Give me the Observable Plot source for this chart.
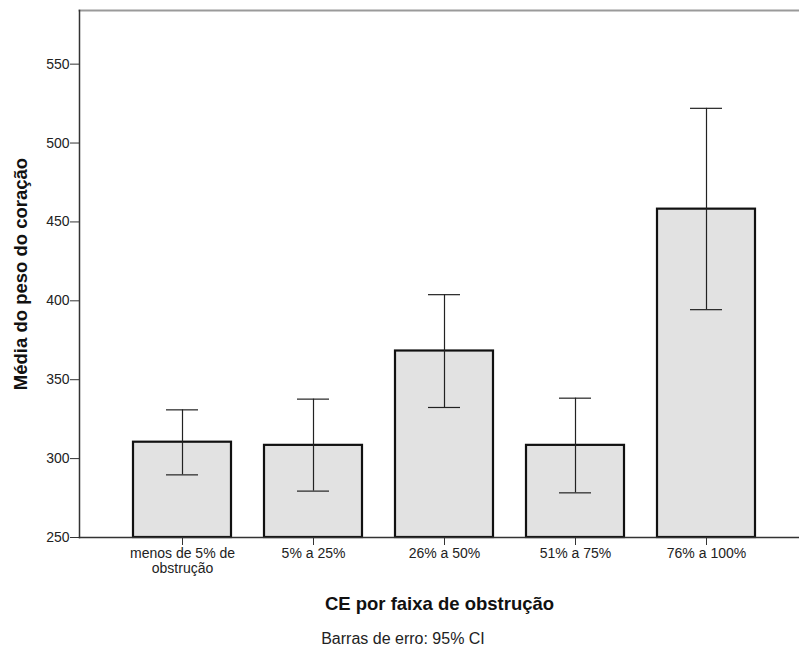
<!DOCTYPE html>
<html>
<head>
<meta charset="utf-8">
<script src="https://cdn.jsdelivr.net/npm/d3@7"></script>
<script src="https://cdn.jsdelivr.net/npm/@observablehq/plot@0.6"></script>
<style>
  html, body { margin: 0; padding: 0; background: #fff; }
  #wrap { width: 799px; height: 651px; position: relative; font-family: "Liberation Sans", Arial, sans-serif; }
  #caption { position: absolute; left: 0; width: 806px; top: 630px; text-align: center; font-size: 16px; color: #222; }
</style>
</head>
<body>
<div id="wrap">
  <div id="chart"></div>
  <div id="caption">Barras de erro: 95% CI</div>
</div>
<script>
const categories = ["menos de 5% de\nobstrução", "5% a 25%", "26% a 50%", "51% a 75%", "76% a 100%"];
const means = [310.4, 308.4, 368.2, 308.4, 458.1];
const ciLow = [289.7, 279.4, 332.4, 278.3, 394.4];
const ciHigh = [330.9, 337.7, 403.9, 338.3, 522.0];
const yTicks = [250, 300, 350, 400, 450, 500, 550];
const yMin = 250;
const yMax = 584;
const xTitle = "CE por faixa de obstrução";
const yTitle = "Média do peso do coração";

const data = categories.map((c, i) => ({cat: c, mean: means[i], lo: ciLow[i], hi: ciHigh[i], base: yMin}));

const chart = Plot.plot({
  width: 799,
  height: 620,
  marginLeft: 79,
  marginRight: 0,
  marginTop: 10,
  marginBottom: 83,
  style: {fontFamily: "'Liberation Sans', Arial, sans-serif", fontSize: "14px", color: "#222", background: "#fff"},
  x: {domain: categories, range: [132, 757], paddingInner: 0.25, paddingOuter: 0},
  y: {domain: [yMin, yMax]},
  marks: [
    Plot.frame({anchor: "top", stroke: "#9a9a9a", strokeWidth: 2}),
    Plot.barY(data, {x: "cat", y1: "base", y2: "mean", fill: "#e2e2e2", stroke: "#111", strokeWidth: 2.2}),
    Plot.ruleX(data, {x: "cat", y1: "lo", y2: "hi", stroke: "#222", strokeWidth: 1.2}),
    Plot.tickY(data, {x: "cat", y: "lo", stroke: "#222", strokeWidth: 1.2, insetLeft: 33, insetRight: 33}),
    Plot.tickY(data, {x: "cat", y: "hi", stroke: "#222", strokeWidth: 1.2, insetLeft: 33, insetRight: 33}),
    Plot.axisY({ticks: yTicks, tickSize: 9, tickPadding: 1, stroke: "#333", fontSize: 14, fill: "#222",
      label: yTitle, labelAnchor: "center", labelArrow: "none", labelOffset: 66}),
    Plot.axisX({tickSize: 8, tickPadding: 2, stroke: "#333", fontSize: 14, fill: "#222", lineHeight: 1.08,
      label: xTitle, labelAnchor: "center", labelArrow: "none", labelOffset: 72}),
    Plot.frame({anchor: "left", stroke: "#333", strokeWidth: 1.5}),
    Plot.frame({anchor: "bottom", stroke: "#333", strokeWidth: 1.5})
  ]
});
document.getElementById("chart").appendChild(chart);
// style axis titles bold
chart.querySelectorAll("g[aria-label='x-axis label'] text, g[aria-label='y-axis label'] text").forEach(t => {
  t.setAttribute("font-weight", "bold");
  t.setAttribute("font-size", "18.5");
  t.setAttribute("fill", "#111");
});
</script>
</body>
</html>
